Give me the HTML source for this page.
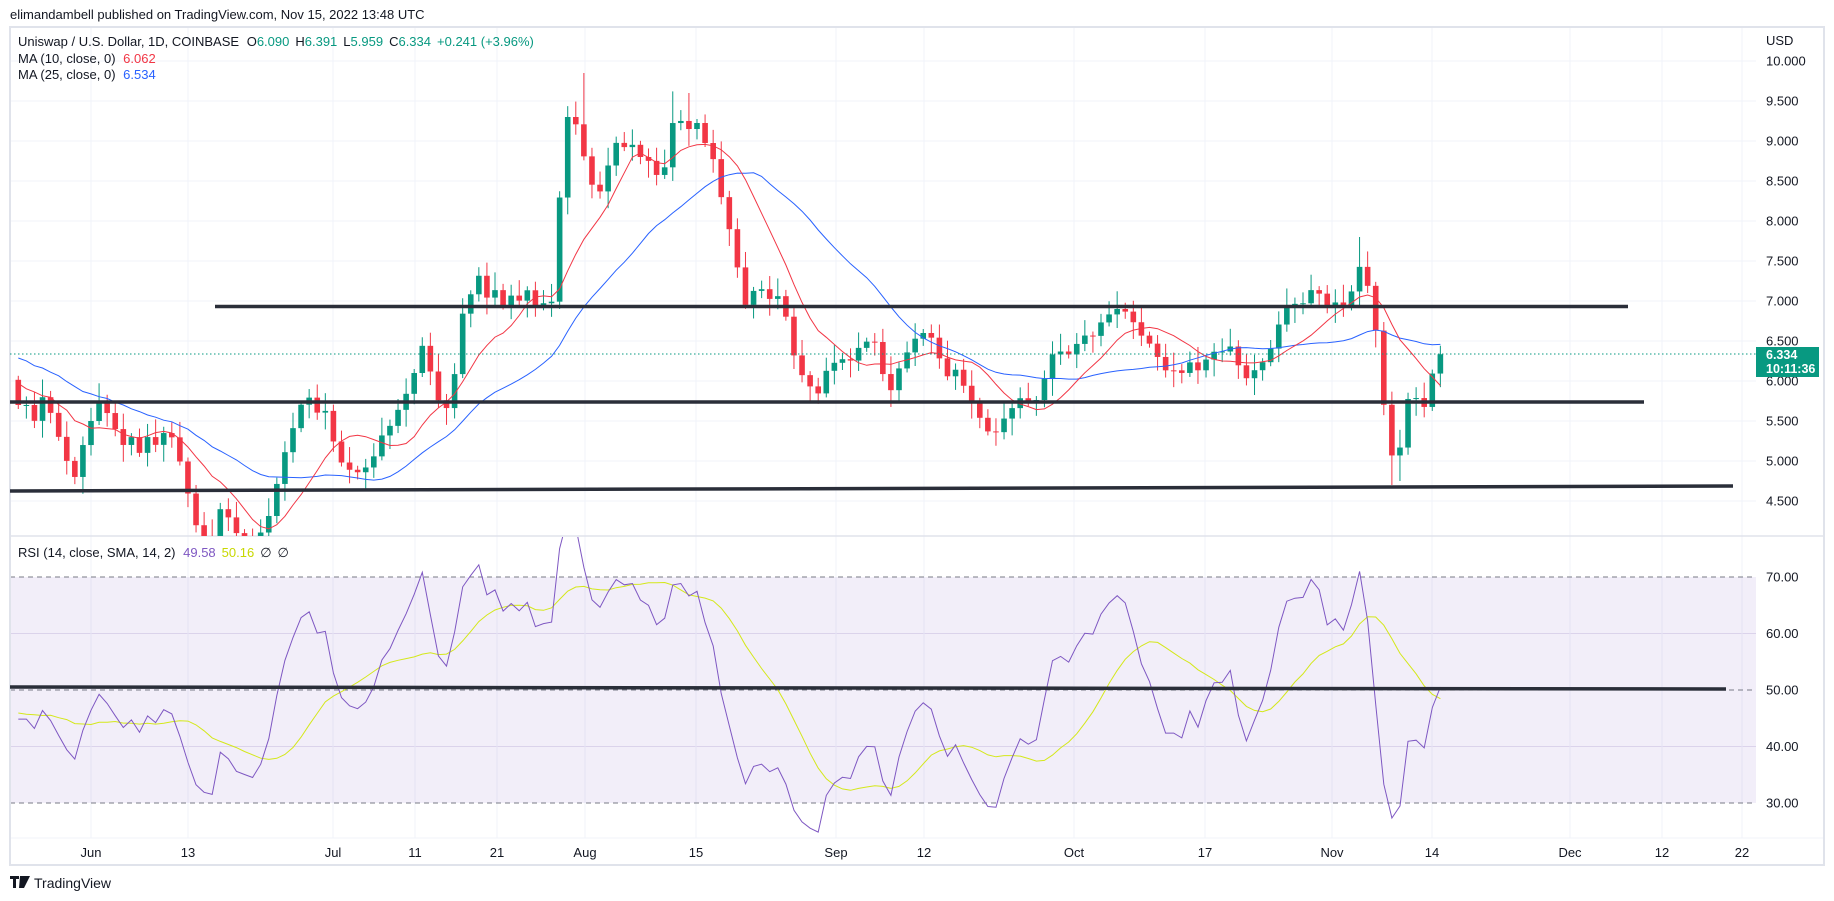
<!DOCTYPE html>
<html><head><meta charset="utf-8"><style>
html,body{margin:0;padding:0;background:#fff;overflow:hidden;}
svg{display:block;font-family:"Liberation Sans",sans-serif;}
</style></head><body>
<svg id="s" width="1834" height="901" viewBox="0 0 1834 901" xmlns="http://www.w3.org/2000/svg">
<defs>
<clipPath id="cp"><rect x="10" y="27" width="1746" height="509"/></clipPath>
<clipPath id="cr"><rect x="10" y="537" width="1746" height="300"/></clipPath>
</defs>
<rect width="1834" height="901" fill="#fff"/>
<g id="grid"></g>
<rect x="10" y="577" width="1746" height="226" fill="rgba(126,87,194,0.1)"/>
<g id="dash" stroke="#787b86" stroke-width="1" stroke-dasharray="5,4">
<line x1="10" y1="577" x2="1756" y2="577"/><line x1="10" y1="690" x2="1756" y2="690"/><line x1="10" y1="803" x2="1756" y2="803"/>
</g>
<line x1="10" y1="536" x2="1824" y2="536" stroke="#e0e3eb" stroke-width="1.5"/>
<line x1="10" y1="838" x2="1824" y2="838" stroke="#f0f3fa" stroke-width="1"/>
<rect x="10" y="27" width="1814" height="838" fill="none" stroke="#e0e3eb" stroke-width="2"/>
<g id="series"></g>
<g id="rsi" clip-path="url(#cr)"></g>
<g id="lines" stroke="#2a2e39" stroke-width="3.5" stroke-linecap="butt">
<line x1="215" y1="306.5" x2="1628" y2="306.5"/>
<line x1="10" y1="402" x2="1644" y2="402"/>
<line x1="10" y1="491" x2="1733" y2="486"/>
<line x1="10" y1="687" x2="1726" y2="689"/>
</g>
<line x1="10" y1="354" x2="1756" y2="354" stroke="#089981" stroke-width="1" stroke-dasharray="1.5,2.5"/>
<g font-size="13" fill="#131722">
<text x="10" y="19">elimandambell published on TradingView.com, Nov 15, 2022 13:48 UTC</text>
<text x="18" y="46">Uniswap / U.S. Dollar, 1D, COINBASE <tspan dx="4">O</tspan><tspan fill="#089981">6.090</tspan><tspan dx="6">H</tspan><tspan fill="#089981">6.391</tspan><tspan dx="6">L</tspan><tspan fill="#089981">5.959</tspan><tspan dx="6">C</tspan><tspan fill="#089981">6.334</tspan><tspan dx="6" fill="#089981">+0.241 (+3.96%)</tspan></text>
<text x="18" y="63">MA (10, close, 0) <tspan dx="4" fill="#f23645">6.062</tspan></text>
<text x="18" y="79">MA (25, close, 0) <tspan dx="4" fill="#2962ff">6.534</tspan></text>
<text x="18" y="557">RSI (14, close, SMA, 14, 2) <tspan dx="4" fill="#7e57c2">49.58</tspan><tspan dx="6" fill="#c8d800">50.16</tspan><tspan dx="6" fill="#131722">∅</tspan><tspan dx="6">∅</tspan></text>
<text x="1766" y="45">USD</text>
</g>
<g id="ax" font-size="13" fill="#131722"></g>
<rect x="1756" y="347" width="63" height="30" fill="#089981"/>
<text x="1766" y="359" font-size="12.5" font-weight="bold" fill="#fff">6.334</text>
<text x="1766" y="373" font-size="12.5" font-weight="bold" fill="#fff">10:11:36</text>
<g>
<rect x="10" y="876" width="9" height="3" fill="#131722"/><rect x="13" y="876" width="3" height="12" fill="#131722"/>
<polygon points="20,876 30,876 24,888 19,888" fill="#131722"/>
<text x="34" y="888" font-size="14" fill="#131722">TradingView</text>
</g>
</svg>
<script>
(function(){
var NS="http://www.w3.org/2000/svg";
function el(p,t,a){var e=document.createElementNS(NS,t);for(var k in a)e.setAttribute(k,a[k]);p.appendChild(e);return e;}
var grid=document.getElementById('grid'),ax=document.getElementById('ax'),ser=document.getElementById('series'),rg=document.getElementById('rsi');
function R(r){return 690-(r-50)*5.65;}
for(var p=4.5;p<=10.001;p+=0.5){var y=61+(10-p)*80;el(grid,'line',{x1:10,x2:1756,y1:y,y2:y,stroke:'#f0f3fa','stroke-width':1});
 var t=el(ax,'text',{x:1766,y:y+4.5});t.textContent=p.toFixed(3);}
[60,40].forEach(function(r){var y=R(r);el(grid,'line',{x1:10,x2:1756,y1:y,y2:y,stroke:'#e6e1f0','stroke-width':1});});
[70,60,50,40,30].forEach(function(r){var y=R(r);var t=el(ax,'text',{x:1766,y:y+4.5});t.textContent=r.toFixed(2);});
var tl=[["Jun",91],["13",188],["Jul",333],["11",415],["21",497],["Aug",585],["15",696],["Sep",836],["12",924],["Oct",1074],["17",1205],["Nov",1332],["14",1432],["Dec",1570],["12",1662],["22",1742]];
tl.forEach(function(a){el(grid,'line',{x1:a[1],x2:a[1],y1:27,y2:838,stroke:'#f0f3fa','stroke-width':1});
 var t=el(ax,'text',{x:a[1],y:857,'text-anchor':'middle'});t.textContent=a[0];});
var K=[[4,5.7],[11,5.5],[18,5.8],[25,5.6],[32,5.3],[39,5.0],[46,4.8],[53,5.2],[60,5.5],[67,5.75],[74,5.6],[81,5.4],[88,5.2],[95,5.3],[102,5.1],[109,5.3],[116,5.2],[123,5.35],[130,5.3],[137,5.0],[144,4.6],[151,4.2],[158,4.05],[165,4.0],[172,4.4],[179,4.3],[186,4.1],[193,4.05],[200,4.0],[207,4.1],[214,4.3],[221,4.7],[228,5.1],[235,5.4],[242,5.7],[249,5.8],[256,5.6],[262,5.7],[269,5.3],[276,5.0],[283,4.9],[290,4.85],[297,4.9],[304,5.0],[311,5.3],[318,5.4],[325,5.6],[332,5.8],[339,6.0],[346,6.5],[353,6.2],[360,5.8],[367,5.6],[374,5.9],[381,6.8],[388,7.0],[395,7.4],[402,7.0],[409,7.2],[416,6.9],[423,7.1],[430,6.95],[437,7.2],[444,6.9],[451,7.05],[458,6.7],[465,8.0],[472,9.3],[479,9.3],[486,8.9],[493,8.5],[500,8.3],[507,8.6],[514,9.0],[521,8.9],[528,9.0],[535,8.8],[542,8.8],[549,8.6],[556,8.5],[563,9.2],[570,9.3],[577,9.1],[584,9.3],[591,9.0],[598,8.9],[605,8.4],[612,8.0],[619,7.6],[626,6.9],[633,7.1],[640,7.2],[647,7.0],[654,7.1],[661,6.95],[668,6.4],[675,6.1],[682,6.0],[689,5.75],[696,6.1],[703,6.2],[710,6.3],[717,6.2],[724,6.4],[731,6.45],[738,6.6],[745,6.2],[752,5.8],[759,6.1],[766,6.3],[773,6.5],[780,6.6],[787,6.6],[794,6.4],[801,6.0],[808,6.2],[815,6.0],[822,5.8],[829,5.6],[836,5.4],[843,5.3],[850,5.5],[857,5.6],[864,5.8],[871,5.75],[878,5.7],[885,5.9],[892,6.3],[899,6.4],[906,6.3],[913,6.4],[920,6.6],[927,6.5],[934,6.7],[941,6.8],[948,6.9],[955,6.9],[962,6.8],[969,6.6],[976,6.5],[983,6.4],[990,6.1],[997,6.2],[1004,6.0],[1011,6.3],[1018,6.1],[1025,6.2],[1032,6.4],[1039,6.3],[1046,6.5],[1053,6.3],[1060,6.0],[1067,6.1],[1074,6.2],[1081,6.3],[1088,6.6],[1095,6.9],[1102,7.0],[1109,6.9],[1116,7.1],[1123,7.2],[1130,6.9],[1137,7.0],[1144,6.95],[1151,6.9],[1158,7.5],[1165,7.3],[1172,7.0],[1179,6.0],[1186,5.2],[1193,4.85],[1200,5.7],[1207,5.9],[1214,5.6],[1221,5.8],[1228,6.09],[1234,6.334]];
var N=168+9;
var C=[];
for(var i=0;i<N;i++){var d=i-9;var dx=60+d*7.01;var v;
 if(dx<=K[0][0])v=K[0][1];else if(dx>=K[K.length-1][0])v=K[K.length-1][1];
 else{for(var j=0;j<K.length-1;j++){if(dx>=K[j][0]&&dx<=K[j+1][0]){var f=(dx-K[j][0])/(K[j+1][0]-K[j][0]);v=K[j][1]+f*(K[j+1][1]-K[j][1]);break;}}}
 C.push(v);}
C[N-1]=6.334;C[N-2]=6.093;
var W=[];for(var i=0;i<30;i++)W.push(7.1-i*0.045+(i%2?0.22:-0.22));
var all=W.concat(C);
function X(i){return 91+(i-9)*8.08;}
function Y(p){return 61+(10-p)*80;}
function ma(n,idx){var s=0;for(var k=0;k<n;k++)s+=all[idx-k];return s/n;}
var p10=[],p25=[];
for(var i=0;i<N;i++){var idx=i+30;p10.push(X(i).toFixed(1)+','+Y(ma(10,idx)).toFixed(1));p25.push(X(i).toFixed(1)+','+Y(ma(25,idx)).toFixed(1));}
var ag=0,al=0,rs=[];
for(var k=1;k<all.length;k++){var ch=all[k]-all[k-1],g=Math.max(ch,0),l=Math.max(-ch,0);
 if(k<=14){ag+=g/14;al+=l/14;}else{ag=(ag*13+g)/14;al=(al*13+l)/14;}
 rs.push(al==0?100:100-100/(1+ag/al));}
var rp=[],sp=[];
for(var i=0;i<N;i++){var idx=i+30;var r=rs[idx-1];rp.push(X(i).toFixed(1)+','+R(r).toFixed(1));
 var s=0;for(var k=0;k<14;k++)s+=rs[idx-1-k];sp.push(X(i).toFixed(1)+','+R(s/14).toFixed(1));}
var gC=el(ser,'g',{'clip-path':'url(#cp)'});
for(var i=0;i<N;i++){var c=C[i],o=(i==0?W[29]:C[i-1]);
 var wob=((i*37)%7)/7;
 var h=Math.max(o,c)+0.05+wob*0.2,l=Math.min(o,c)-0.05-((i*53)%5)/5*0.2;
 var d=i-9;
 if(d==61){h=9.85;} if(d==72)h=9.62; if(d==74)h=9.6; if(d==157)h=7.8; if(d==161)l=4.7; if(d==162)l=4.75;
 var col=c>=o?'#089981':'#f23645';var x=X(i);
 el(gC,'line',{x1:x,x2:x,y1:Y(h),y2:Y(l),stroke:col,'stroke-width':1});
 var yt=Y(Math.max(o,c)),yb=Y(Math.min(o,c));if(yb-yt<1)yb=yt+1;
 el(gC,'rect',{x:x-2.8,y:yt,width:5.6,height:yb-yt,fill:col});}
el(gC,'polyline',{points:p25.join(' '),fill:'none',stroke:'#2962ff','stroke-width':1});
el(gC,'polyline',{points:p10.join(' '),fill:'none',stroke:'#f23645','stroke-width':1});
el(rg,'polyline',{points:sp.join(' '),fill:'none',stroke:'#d4e81a','stroke-width':1});
el(rg,'polyline',{points:rp.join(' '),fill:'none',stroke:'#7e57c2','stroke-width':1});
})();
</script>
</body></html>
